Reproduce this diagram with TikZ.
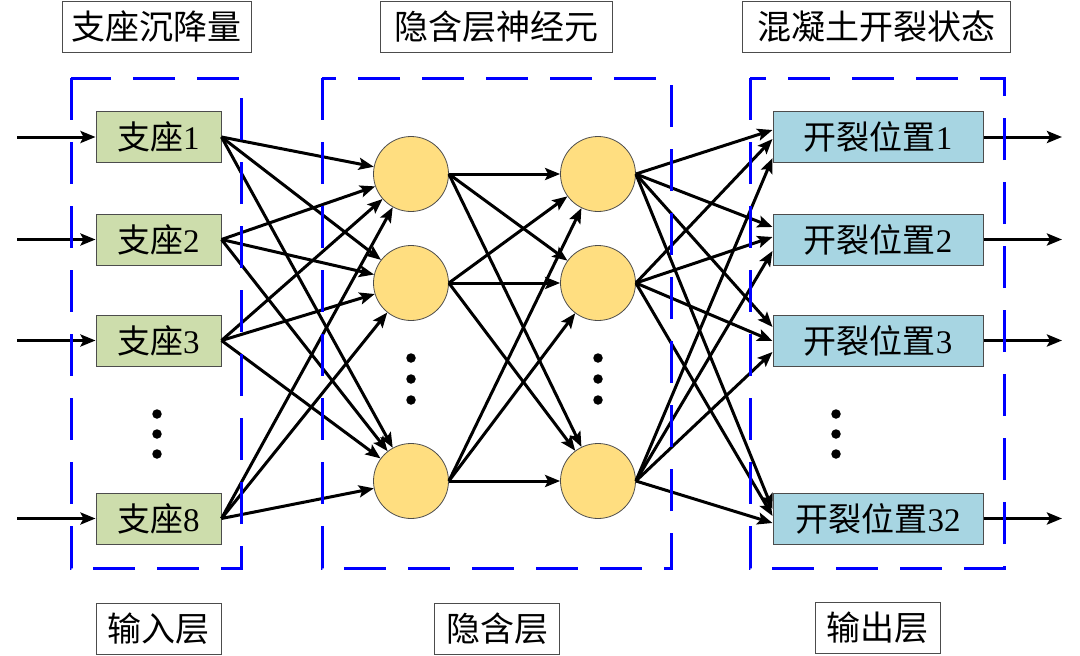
\documentclass[tikz,border=0pt]{standalone}
\usepackage{fontspec}
\setmainfont{Liberation Serif}
\newfontfamily\cjk{Noto Sans CJK SC}
\usetikzlibrary{arrows.meta,calc}
\definecolor{ingreen}{RGB}{205,221,172}
\definecolor{outblue}{RGB}{167,213,226}
\definecolor{neuronfill}{RGB}{255,222,128}
\begin{document}
\begin{tikzpicture}[x=1pt,y=-1pt,
 lbl/.style={draw=black!70, line width=1pt, fill=white, minimum height=51pt, inner sep=0pt, font=\fontsize{34}{36}\selectfont\cjk},
 inbox/.style={draw=black!70, line width=1pt, fill=ingreen, minimum width=125pt, minimum height=51pt, inner sep=0pt, font=\fontsize{33}{36}\selectfont},
 outbox/.style={draw=black!70, line width=1pt, fill=outblue, minimum width=210pt, minimum height=51pt, inner sep=0pt, font=\fontsize{33}{36}\selectfont},
 neuron/.style={circle, draw=black!70, line width=0.8pt, fill=neuronfill, minimum size=75pt, inner sep=0pt},
 conn/.style={line width=3pt, -{Stealth[length=15pt,width=12pt,inset=3pt]}},
 group/.style={draw=blue, line width=3pt, dash pattern=on 42pt off 22pt},
 dot/.style={circle, fill=black, inner sep=0pt, minimum size=9.5pt}
]
\useasboundingbox (0,0) rectangle (1080,656);
% titles
\node[lbl, minimum width=189pt] (t1) at (156.5,26.5) {支座沉降量};
\node[lbl, minimum width=232pt] (t2) at (496,26.5) {隐含层神经元};
\node[lbl, minimum width=268pt] (t3) at (876,26.5) {混凝土开裂状态};
\node[lbl, minimum width=125pt] (b1) at (158.5,629) {输入层};
\node[lbl, minimum width=125pt] (b2) at (497,629) {隐含层};
\node[lbl, minimum width=125pt] (b3) at (877.5,628) {输出层};
% input boxes
\node[inbox] (in1) at (158.5,137) {{\cjk 支座}1};
\node[inbox] (in2) at (158.5,239.5) {{\cjk 支座}2};
\node[inbox] (in3) at (158.5,340.5) {{\cjk 支座}3};
\node[inbox] (in8) at (158.5,518.5) {{\cjk 支座}8};
% neurons
\node[neuron] (ha1) at (411,174) {};
\node[neuron] (ha2) at (411,283) {};
\node[neuron] (ha3) at (411,481) {};
\node[neuron] (hb1) at (598,174) {};
\node[neuron] (hb2) at (598,283) {};
\node[neuron] (hb3) at (598,481) {};
% output boxes
\node[outbox] (o1) at (878,137) {{\cjk 开裂位置}1};
\node[outbox] (o2) at (878,239.5) {{\cjk 开裂位置}2};
\node[outbox] (o3) at (878,340.5) {{\cjk 开裂位置}3};
\node[outbox] (o32) at (878,518.5) {{\cjk 开裂位置}32};
% dots
\node[dot] (di1) at (157,414) {};
\node[dot] (di2) at (157,434) {};
\node[dot] (di3) at (157,454) {};
\node[dot] (da1) at (411,358) {};
\node[dot] (da2) at (411,379) {};
\node[dot] (da3) at (411,400) {};
\node[dot] (db1) at (598,358) {};
\node[dot] (db2) at (598,379) {};
\node[dot] (db3) at (598,400) {};
\node[dot] (do1) at (836,414) {};
\node[dot] (do2) at (836,434) {};
\node[dot] (do3) at (836,454) {};
% free ends
\foreach \i/\y in {1/137,2/239.5,3/340.5,8/518.5} {
  \coordinate (s\i) at (17,\y);
  \draw[conn] (s\i) -- (in\i.west);
}
\foreach \j/\y in {1/137,2/239.5,3/340.5,32/518.5} {
  \coordinate (e\j) at (1062,\y);
  \draw[conn] (o\j.east) -- (e\j);
}
% input -> hidden 1
\foreach \i in {1,2,3,8} \foreach \j in {1,2,3} \draw[conn] (in\i.east) -- (ha\j);
% hidden 1 -> hidden 2
\foreach \i in {1,2,3} \foreach \j in {1,2,3} \draw[conn] (ha\i.east) -- (hb\j);
% hidden 2 -> output
\foreach \j/\a/\b/\c in {1/-7/2/21, 2/-12.5/-2.5/11.5, 3/-13.5/0.5/11.5, 32/-9.5/-2.5/4.5} {
  \draw[conn] (hb1.east) -- ($(o\j.west)+(0,\a)$);
  \draw[conn] (hb2.east) -- ($(o\j.west)+(0,\b)$);
  \draw[conn] (hb3.east) -- ($(o\j.west)+(0,\c)$);
}
% groups
\draw[group] (71,78) rectangle (241,568);
\draw[group] (322,78) rectangle (671,568);
\draw[group] (750,78) rectangle (1004,568);
\end{tikzpicture}
\end{document}
